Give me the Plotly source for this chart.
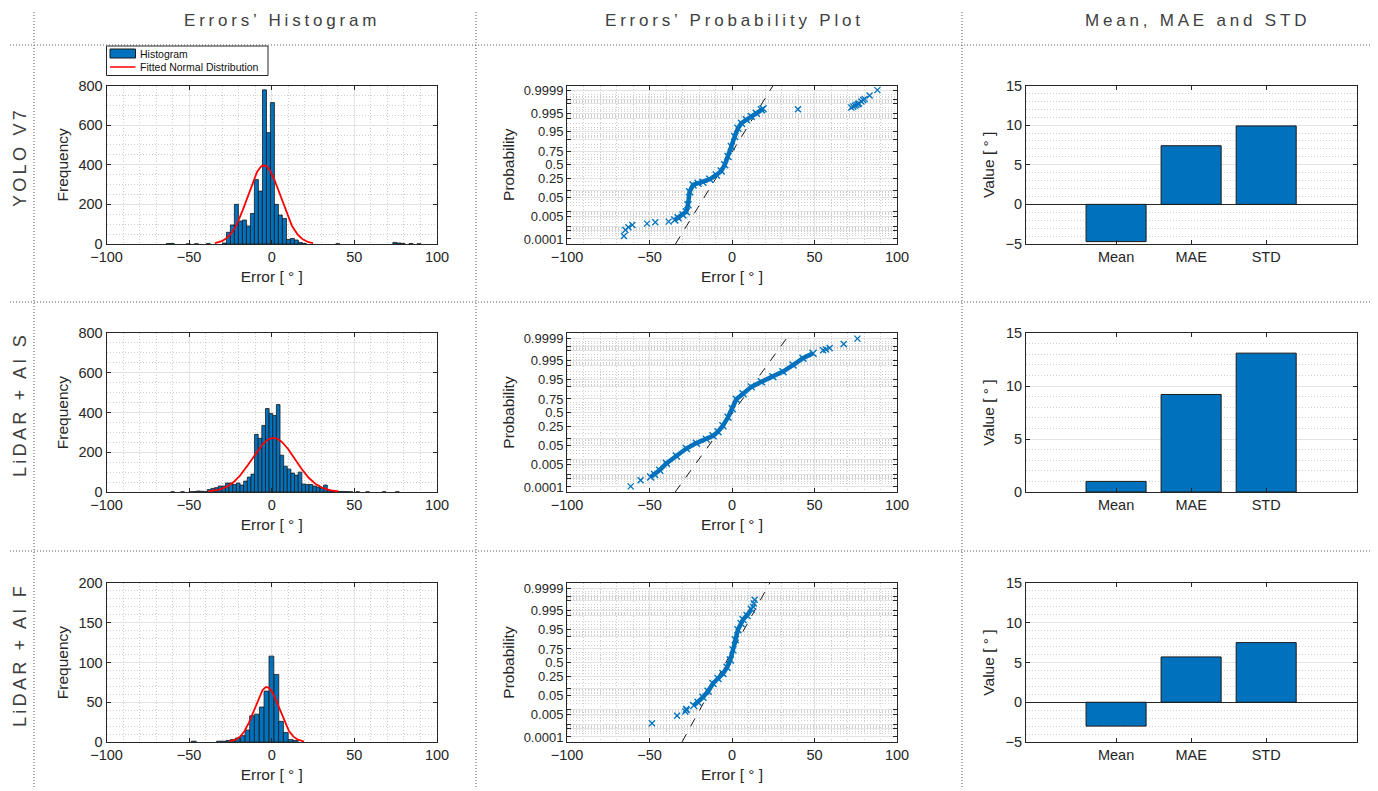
import numpy as np
import plotly.graph_objects as go
from statistics import NormalDist

# ---------------- data ----------------
row_names = ["YOLO V7", "LiDAR + AI S", "LiDAR + AI F"]
col_titles = ["Errors’ Histogram", "Errors’ Probability Plot", "Mean, MAE and STD"]
stat_labels = ["Mean", "MAE", "STD"]
legend_labels = ["Histogram", "Fitted Normal Distribution"]

# Mean, MAE, STD per model (degrees)
yolo_stats = [-4.7, 7.4, 9.9]
lidar_s_stats = [1.0, 9.2, 13.1]
lidar_f_stats = [-3.0, 5.7, 7.5]

# Histograms
yolo_bin_width = 2.42
yolo_bin_centers = [-62.6, -60.2, -50.5, -45.6, -38.4, -28.6, -26.2, -23.8, -21.4, -19.0,
                    -16.5, -14.1, -11.7, -9.3, -6.9, -4.4, -2.0, 0.4, 2.8, 5.2,
                    7.7, 10.1, 12.5, 14.9, 17.3, 19.7, 40.0, 74.5, 77.0, 79.4, 84.3, 89.1]
yolo_bin_counts = [2, 2, 1, 1, 2, 5, 59, 96, 200, 116,
                   121, 91, 154, 325, 267, 778, 562, 714, 200, 146,
                   129, 23, 28, 20, 8, 3, 1, 8, 5, 3, 2, 1]

lidar_s_bin_width = 2.2
lidar_s_bin_centers = [-60.0, -54.0, -49.0, -46.7, -44.5, -42.3, -40.1, -37.9, -35.7, -33.5,
                       -31.3, -29.1, -26.9, -24.7, -22.5, -20.3, -18.1, -15.9, -13.7, -11.5,
                       -9.3, -7.1, -4.9, -2.7, -0.5, 1.7, 3.9, 6.1, 8.3, 10.5,
                       12.7, 14.9, 17.1, 19.3, 21.5, 23.7, 25.9, 28.1, 30.3, 32.5,
                       34.7, 36.9, 39.1, 41.3, 43.5, 45.7, 48.0, 52.0, 58.0, 68.0, 76.0]
lidar_s_bin_counts = [1, 1, 1, 2, 5, 4, 3, 12, 18, 22,
                      30, 30, 45, 45, 38, 45, 35, 55, 75, 90,
                      290, 270, 335, 420, 395, 385, 440, 185, 130, 115,
                      95, 85, 100, 40, 38, 38, 30, 25, 20, 35,
                      10, 5, 3, 3, 2, 2, 1, 1, 1, 1, 1]

lidar_f_bin_width = 2.9
lidar_f_bin_centers = [-47.2, -31.9, -29.0, -26.2, -23.6, -20.6, -17.5, -14.7, -11.9, -9.1,
                       -6.0, -3.2, -0.2, 2.8, 5.6, 8.5, 11.5, 14.5]
lidar_f_bin_counts = [1, 1, 1, 2, 3, 5, 8, 15, 33, 35,
                      44, 64, 108, 85, 26, 12, 3, 2]

# Normal probability plots: error value vs standard-normal quantile of its probability
yolo_pp_band_x = [-34.7, -32.7, -29.7, -27.7, -26.7, -25.7, -23.6, -20.6, -17.6, -13.5,
                  -9.5, -6.5, -4.4, -2.4, -0.4, 1.6, 3.6, 5.7, 8.7, 11.7, 14.7, 17.8, 18.8]
yolo_pp_band_q = [-2.77, -2.65, -2.52, -2.35, -2.0, -1.35, -1.01, -0.93, -0.88, -0.73,
                  -0.51, -0.31, 0.0, 0.41, 0.91, 1.41, 1.83, 2.08, 2.25, 2.42, 2.58, 2.75, 2.80]
yolo_pp_out_x = [-65.5, -64.6, -62.8, -60.4, -51.5, -46.5, -38.4, 40.0,
                 72.3, 73.5, 74.5, 75.4, 76.3, 77.0, 78.4, 79.5, 80.4, 83.4, 88.1]
yolo_pp_out_q = [-3.57, -3.27, -3.13, -3.02, -2.95, -2.88, -2.85, 2.78,
                 2.87, 2.92, 2.96, 3.00, 3.04, 3.07, 3.17, 3.24, 3.30, 3.47, 3.74]

lidar_s_pp_band_x = [-49.3, -46.9, -43.8, -39.8, -33.7, -27.7, -21.6, -15.6, -11.5, -8.5,
                     -5.5, -2.4, 0.2, 2.6, 6.7, 11.7, 17.8, 24.8, 30.9, 37.0, 43.0, 49.1]
lidar_s_pp_band_q = [-3.22, -3.10, -2.88, -2.54, -2.17, -1.80, -1.53, -1.33, -1.16, -0.96,
                     -0.66, -0.24, 0.19, 0.66, 0.94, 1.28, 1.53, 1.78, 2.04, 2.37, 2.71, 2.96]
lidar_s_pp_out_x = [-61.4, -55.4, 55.2, 57.0, 59.2, 67.7, 76.0]
lidar_s_pp_out_q = [-3.69, -3.38, 3.11, 3.15, 3.22, 3.42, 3.69]

lidar_f_pp_band_x = [-23.2, -20.6, -17.6, -14.5, -11.5, -8.5, -5.5, -3.0, -1.0, 0.6,
                     2.0, 3.6, 5.5, 6.7, 9.1, 11.7]
lidar_f_pp_band_q = [-2.15, -1.98, -1.73, -1.43, -1.05, -0.80, -0.55, -0.24, 0.13, 0.63,
                     1.14, 1.64, 1.95, 2.15, 2.35, 2.66]
lidar_f_pp_out_x = [-48.5, -33.3, -28.3, -27.7, -27.5, 12.7, 13.2, 13.7]
lidar_f_pp_out_q = [-3.03, -2.66, -2.45, -2.32, -2.38, 2.79, 2.95, 3.13]

# Reference lines of the probability plots (centre, slope per quantile unit)
ref_mu = [-4.7, 0.5, -3.7]
ref_sigma = [7.45, 8.8, 6.7]

prob_ticks = [0.0001, 0.0005, 0.001, 0.005, 0.01, 0.05, 0.1, 0.25, 0.5,
              0.75, 0.9, 0.95, 0.99, 0.995, 0.999, 0.9995, 0.9999]
prob_tick_labels = ["0.0001", "", "", "0.005", "", "0.05", "", "0.25", "0.5",
                    "0.75", "", "0.95", "", "0.995", "", "", "0.9999"]

# ---------------- styling ----------------
SCREEN_W, SCREEN_H = 1378, 791
OFF = 8  # page body margin of the browser
W, H = SCREEN_W - OFF, SCREEN_H - OFF
BLUE = "#0072BD"
AX = "#262626"
FONT = "Liberation Sans, Arial, sans-serif"
GRID = "#e3e3e3"
MGRID = "#cfcfcf"
MDASH = "1px,2px"
TICK = 14.5
TITLE = 15.5


def PX(x):
    return (x - OFF) / W


def PY(y):
    return 1 - (y - OFF) / H


col_px = [(106.5, 437.0), (567.0, 897.0), (1026.0, 1357.0)]
row_px = [(85.5, 244.0), (333.0, 492.0), (583.0, 742.0)]
Q_RANGE = [-3.97, 3.97]

stats = [yolo_stats, lidar_s_stats, lidar_f_stats]
hists = [(yolo_bin_centers, yolo_bin_counts, yolo_bin_width),
         (lidar_s_bin_centers, lidar_s_bin_counts, lidar_s_bin_width),
         (lidar_f_bin_centers, lidar_f_bin_counts, lidar_f_bin_width)]
pps = [(yolo_pp_band_x, yolo_pp_band_q, yolo_pp_out_x, yolo_pp_out_q),
       (lidar_s_pp_band_x, lidar_s_pp_band_q, lidar_s_pp_out_x, lidar_s_pp_out_q),
       (lidar_f_pp_band_x, lidar_f_pp_band_q, lidar_f_pp_out_x, lidar_f_pp_out_q)]

nd = NormalDist()
prob_tick_q = [nd.inv_cdf(p) for p in prob_ticks]
minor_p = []
for k in [1e-4, 1e-3, 1e-2]:
    for m in range(2, 10):
        if m == 5:
            continue
        minor_p.append(m * k)
minor_p += [0.15, 0.2, 0.3, 0.35, 0.4, 0.45]
minor_p = minor_p + [1 - p for p in minor_p]
minor_q = [nd.inv_cdf(p) for p in minor_p]

fig = go.Figure()


def ax_name(r, c, kind):
    i = r * 3 + c + 1
    return (kind + "axis") if i == 1 else (kind + "axis" + str(i))


def ax_ref(r, c, kind):
    i = r * 3 + c + 1
    return kind if i == 1 else kind + str(i)


def base_axis(domain):
    return dict(domain=domain, automargin=False, showline=True, linecolor=AX, linewidth=1,
                mirror="ticks", ticks="inside", ticklen=4, tickcolor=AX, tickwidth=1,
                tickfont=dict(family=FONT, size=TICK, color=AX),
                showgrid=True, gridcolor=GRID, gridwidth=1, zeroline=False,
                title_font=dict(family=FONT, size=TITLE, color=AX))


def minor_grid(**kw):
    d = dict(showgrid=True, gridcolor=MGRID, griddash=MDASH, ticks="")
    d.update(kw)
    return d


minus = lambda v: ("−" + str(-v)) if v < 0 else str(v)

layout_axes = {}
for r in range(3):
    y0, y1 = row_px[r]
    ydom = [PY(y1), PY(y0)]
    for c in range(3):
        x0, x1 = col_px[c]
        xdom = [PX(x0), PX(x1)]
        xa = base_axis(xdom)
        ya = base_axis(ydom)
        xa["anchor"] = ax_ref(r, c, "y")
        ya["anchor"] = ax_ref(r, c, "x")
        if c in (0, 1):
            xt = [-100, -50, 0, 50, 100]
            xa.update(range=[-100, 100], tickmode="array", tickvals=xt, ticktext=[minus(v) for v in xt],
                      minor=minor_grid(dtick=10, tick0=0),
                      title=dict(text="Error [ ° ]", standoff=6))
        if c == 0:
            top = 800 if r < 2 else 200
            step = 200 if r < 2 else 50
            mstep = 50 if r < 2 else 10
            ya.update(range=[0, top], dtick=step, tick0=0,
                      minor=minor_grid(dtick=mstep, tick0=0),
                      title=dict(text="Frequency", standoff=5))
        elif c == 1:
            ya.update(range=Q_RANGE, tickmode="array", tickvals=prob_tick_q, ticktext=prob_tick_labels,
                      tickfont=dict(family=FONT, size=13, color=AX),
                      minor=minor_grid(tickmode="array", tickvals=minor_q),
                      title=dict(text="Probability", standoff=5))
        else:
            xa.update(range=[-0.2, 4.21], tickmode="array", tickvals=[1, 2, 3], ticktext=stat_labels,
                      showgrid=False)
            lo = -5 if min(stats[r]) < 0 else 0
            yt = list(range(lo, 16, 5))
            ya.update(range=[lo, 15], tickmode="array", tickvals=yt, ticktext=[minus(v) for v in yt],
                      minor=minor_grid(dtick=1, tick0=0),
                      zeroline=True, zerolinecolor=AX, zerolinewidth=1,
                      title=dict(text="Value [ ° ]", standoff=7))
        layout_axes[ax_name(r, c, "x")] = xa
        layout_axes[ax_name(r, c, "y")] = ya

for r in range(3):
    centers, counts, bw = hists[r]
    xr, yr = ax_ref(r, 0, "x"), ax_ref(r, 0, "y")
    fig.add_trace(go.Bar(x=centers, y=counts, width=bw, name=legend_labels[0],
                         marker=dict(color=BLUE, line=dict(color="#1a1a1a", width=0.8)),
                         xaxis=xr, yaxis=yr, showlegend=False))
    mu, sd = stats[r][0], stats[r][2]
    n = float(np.sum(counts))
    xs = np.linspace(mu - 3 * sd, mu + 3 * sd, 200)
    ys = n * bw / (sd * np.sqrt(2 * np.pi)) * np.exp(-0.5 * ((xs - mu) / sd) ** 2)
    fig.add_trace(go.Scatter(x=xs, y=ys, mode="lines", name=legend_labels[1],
                             line=dict(color="#ff0000", width=1.8),
                             xaxis=xr, yaxis=yr, showlegend=False))

    bx, bq, ox, oq = pps[r]
    xr, yr = ax_ref(r, 1, "x"), ax_ref(r, 1, "y")
    qs = np.array(Q_RANGE)
    fig.add_trace(go.Scatter(x=ref_mu[r] + ref_sigma[r] * qs, y=qs, mode="lines",
                             line=dict(color="#1a1a1a", width=1, dash="dash"),
                             xaxis=xr, yaxis=yr, showlegend=False))
    fig.add_trace(go.Scatter(x=bx, y=bq, mode="lines+markers",
                             line=dict(color=BLUE, width=4.5),
                             marker=dict(symbol="x-thin", size=7, line=dict(color=BLUE, width=1.4)),
                             xaxis=xr, yaxis=yr, showlegend=False))
    fig.add_trace(go.Scatter(x=ox, y=oq, mode="markers",
                             marker=dict(symbol="x-thin", size=6, line=dict(color=BLUE, width=1.3)),
                             xaxis=xr, yaxis=yr, showlegend=False))

    xr, yr = ax_ref(r, 2, "x"), ax_ref(r, 2, "y")
    fig.add_trace(go.Bar(x=[1, 2, 3], y=stats[r], width=0.8,
                         marker=dict(color=BLUE, line=dict(color="#1a1a1a", width=1)),
                         xaxis=xr, yaxis=yr, showlegend=False))

# separators
shapes = []
dot = dict(color="#5a5a5a", width=1, dash="1px,2px")
for xv in [34, 476, 962]:
    shapes.append(dict(type="line", xref="paper", yref="paper", x0=PX(xv), x1=PX(xv),
                       y0=PY(12), y1=PY(788), line=dot))
for yv in [45, 302, 551]:
    shapes.append(dict(type="line", xref="paper", yref="paper", x0=PX(10), x1=1.0,
                       y0=PY(yv), y1=PY(yv), line=dot))

# legend box of the first histogram
lx0, lx1, ly0, ly1 = 106.5, 268.0, 46.0, 75.5
shapes.append(dict(type="rect", xref="paper", yref="paper", x0=PX(lx0), x1=PX(lx1),
                   y0=PY(ly1), y1=PY(ly0), line=dict(color=AX, width=1), fillcolor="white"))
shapes.append(dict(type="rect", xref="paper", yref="paper", x0=PX(110), x1=PX(135.5),
                   y0=PY(58), y1=PY(49), line=dict(color="#1a1a1a", width=1), fillcolor=BLUE))
shapes.append(dict(type="line", xref="paper", yref="paper", x0=PX(110), x1=PX(135.5),
                   y0=PY(67), y1=PY(67), line=dict(color="#ff0000", width=1.5)))

annotations = []
for i, yv in enumerate([53.5, 67.0]):
    annotations.append(dict(xref="paper", yref="paper", x=PX(137.5), y=PY(yv),
                            text=legend_labels[i], showarrow=False, xanchor="left", yanchor="middle",
                            font=dict(family=FONT, size=10.5, color="#111111")))
title_x = [282, 734, 1197]
for c in range(3):
    annotations.append(dict(xref="paper", yref="paper", x=PX(title_x[c]), y=PY(20),
                            text='<span style="letter-spacing:3.8px">' + col_titles[c] + "</span>",
                            showarrow=False, xanchor="center", yanchor="middle",
                            font=dict(family=FONT, size=17, color="#404040")))
label_y = [157, 405, 655]
for r in range(3):
    annotations.append(dict(xref="paper", yref="paper", x=PX(20), y=PY(label_y[r]),
                            text='<span style="letter-spacing:3.3px">' + row_names[r] + "</span>",
                            textangle=-90, showarrow=False, xanchor="center", yanchor="middle",
                            font=dict(family=FONT, size=18, color="#404040")))

fig.update_layout(width=W, height=H, margin=dict(l=0, r=0, t=0, b=0, autoexpand=False),
                  paper_bgcolor="white", plot_bgcolor="white",
                  font=dict(family=FONT, color=AX), showlegend=False,
                  shapes=shapes, annotations=annotations,
                  **layout_axes)

fig.write_html("out.html")
